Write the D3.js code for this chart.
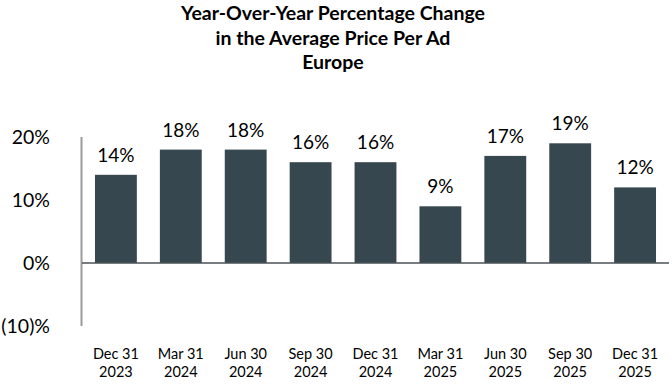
<!DOCTYPE html>
<html>
<head>
<meta charset="utf-8">
<script src="https://cdn.jsdelivr.net/npm/d3@7"></script>
<style>
  body { margin: 0; background: #fff; }
  svg { display: block; font-family: Lato, "Open Sans", sans-serif; }
</style>
</head>
<body>
<div id="chart"></div>
<script>
const WIDTH = 672;
const HEIGHT = 384;

// 标题
const titleLines = ["Year-Over-Year Percentage Change", "in the Average Price Per Ad", "Europe"];

// 数据
const quarters = ["Dec 31", "Mar 31", "Jun 30", "Sep 30", "Dec 31", "Mar 31", "Jun 30", "Sep 30", "Dec 31"];
const years = ["2023", "2024", "2024", "2024", "2024", "2025", "2025", "2025", "2025"];
const changes = [14, 18, 18, 16, 16, 9, 17, 19, 12];
const yTicks = [20, 10, 0, -10];

const BAR_COLOR = "#36474f";

const svg = d3.select("#chart").append("svg")
    .attr("width", WIDTH)
    .attr("height", HEIGHT);

// title
svg.append("g")
    .selectAll("text")
    .data(titleLines)
    .enter()
    .append("text")
    .attr("x", 333)
    .attr("y", (d, i) => 20 + i * 24.5)
    .attr("text-anchor", "middle")
    .style("font-size", "19.5px")
    .style("font-weight", "bold")
    .attr("fill", "#000")
    .text(d => d);

const data = changes.map((v, i) => ({ i, q: quarters[i], y: years[i], v }));

const x = d3.scaleBand()
    .domain(d3.range(changes.length))
    .range([82, 669])
    .paddingInner(0.355)
    .paddingOuter(0.2);

const y = d3.scaleLinear()
    .domain([-10, 20])
    .range([326, 137]);

// y 轴线
svg.append("line")
    .attr("x1", 81.5).attr("x2", 81.5)
    .attr("y1", y(20)).attr("y2", y(-10))
    .attr("stroke", "#9a9a9a")
    .attr("stroke-width", 2);

// y 轴刻度
svg.append("g")
    .selectAll("text")
    .data(yTicks)
    .enter()
    .append("text")
    .attr("x", 50)
    .attr("y", d => y(d))
    .attr("dy", "0.36em")
    .attr("text-anchor", "end")
    .style("font-size", "19.5px")
    .attr("fill", "#000")
    .text(d => d < 0 ? "(" + Math.abs(d) + ")%" : d + "%");

// bars
svg.append("g")
    .selectAll("rect")
    .data(data)
    .enter()
    .append("rect")
    .attr("x", d => x(d.i))
    .attr("width", x.bandwidth())
    .attr("y", d => y(Math.max(0, d.v)))
    .attr("height", d => Math.abs(y(d.v) - y(0)))
    .attr("fill", BAR_COLOR);

// 零线
svg.append("line")
    .attr("x1", 82).attr("x2", 669)
    .attr("y1", y(0)).attr("y2", y(0))
    .attr("stroke", "#4a5256")
    .attr("stroke-width", 1.5);

// value labels
svg.append("g")
    .selectAll("text")
    .data(data)
    .enter()
    .append("text")
    .attr("x", d => x(d.i) + x.bandwidth() / 2)
    .attr("y", d => y(d.v) - 13)
    .attr("text-anchor", "middle")
    .style("font-size", "19px")
    .attr("fill", "#000")
    .text(d => d.v + "%");

// category labels
const cat = svg.append("g")
    .selectAll("text")
    .data(data)
    .enter()
    .append("text")
    .attr("text-anchor", "middle")
    .style("font-size", "14.5px")
    .attr("fill", "#000");
cat.append("tspan")
    .attr("x", d => x(d.i) + x.bandwidth() / 2)
    .attr("y", 359)
    .text(d => d.q);
cat.append("tspan")
    .attr("x", d => x(d.i) + x.bandwidth() / 2)
    .attr("y", 377)
    .text(d => d.y);
</script>
</body>
</html>
